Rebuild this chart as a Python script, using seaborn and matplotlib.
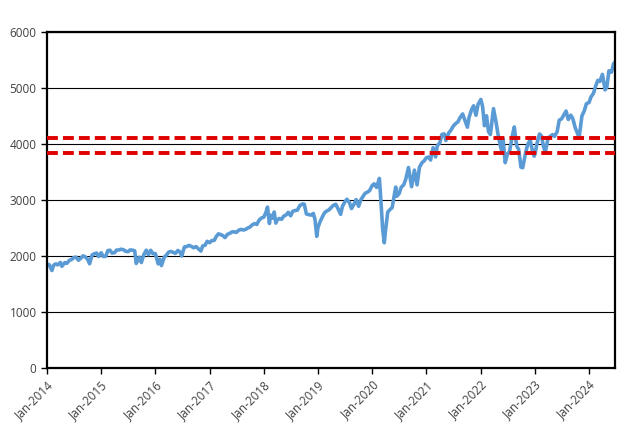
import pandas as pd
import matplotlib.pyplot as plt
import matplotlib.dates as mdates
import seaborn as sns

# S&P 500 style index (roughly twice a month)
dates = [
    '2014-01-02', '2014-01-15', '2014-02-03', '2014-02-15', '2014-03-01', '2014-03-14', '2014-04-01', '2014-04-11',
    '2014-05-01', '2014-05-15', '2014-06-01', '2014-06-15', '2014-07-01', '2014-07-15', '2014-08-01', '2014-08-15',
    '2014-09-01', '2014-09-15', '2014-10-01', '2014-10-15', '2014-11-01', '2014-11-15', '2014-12-01', '2014-12-15',
    '2015-01-01', '2015-01-15', '2015-02-01', '2015-02-15', '2015-03-01', '2015-03-15', '2015-04-01', '2015-04-15',
    '2015-05-01', '2015-05-15', '2015-06-01', '2015-06-15', '2015-07-01', '2015-07-15', '2015-08-01', '2015-08-15',
    '2015-08-25', '2015-09-05', '2015-09-15', '2015-09-29', '2015-10-15', '2015-11-01', '2015-11-15', '2015-12-01',
    '2015-12-15',
    '2016-01-01', '2016-01-20', '2016-02-01', '2016-02-11', '2016-03-01', '2016-03-15', '2016-04-01', '2016-04-15',
    '2016-05-01', '2016-05-15', '2016-06-01', '2016-06-15', '2016-06-27', '2016-07-15', '2016-08-01', '2016-08-15',
    '2016-09-01', '2016-09-15', '2016-10-01', '2016-10-15', '2016-11-03', '2016-11-15', '2016-12-01', '2016-12-15',
    '2017-01-01', '2017-01-15', '2017-02-01', '2017-02-15', '2017-03-01', '2017-03-15', '2017-04-01', '2017-04-15',
    '2017-05-01', '2017-05-15', '2017-06-01', '2017-06-15', '2017-07-01', '2017-07-15', '2017-08-01', '2017-08-15',
    '2017-09-01', '2017-09-15', '2017-10-01', '2017-10-15', '2017-11-01', '2017-11-15', '2017-12-01', '2017-12-15',
    '2018-01-01', '2018-01-15', '2018-01-26', '2018-02-08', '2018-02-15', '2018-03-01', '2018-03-12', '2018-03-23',
    '2018-04-01', '2018-04-15', '2018-05-01', '2018-05-15', '2018-06-01', '2018-06-15', '2018-07-01', '2018-07-15',
    '2018-08-01', '2018-08-15', '2018-09-01', '2018-09-20', '2018-10-01', '2018-10-15', '2018-11-01', '2018-11-15',
    '2018-12-01', '2018-12-12', '2018-12-24',
    '2019-01-01', '2019-01-15', '2019-02-01', '2019-02-15', '2019-03-01', '2019-03-15', '2019-04-01', '2019-04-15',
    '2019-05-01', '2019-05-15', '2019-06-03', '2019-06-15', '2019-07-01', '2019-07-15', '2019-08-01', '2019-08-15',
    '2019-09-01', '2019-09-15', '2019-10-02', '2019-10-15', '2019-11-01', '2019-11-15', '2019-12-01', '2019-12-15',
    '2020-01-01', '2020-01-15', '2020-01-31', '2020-02-19', '2020-03-01', '2020-03-12', '2020-03-23', '2020-04-01',
    '2020-04-15', '2020-05-01', '2020-05-15', '2020-06-08', '2020-06-15', '2020-07-01', '2020-07-15', '2020-08-01',
    '2020-08-15', '2020-09-02', '2020-09-23', '2020-10-12', '2020-10-30', '2020-11-15', '2020-12-01', '2020-12-15',
    '2021-01-01', '2021-01-15', '2021-01-29', '2021-02-15', '2021-03-04', '2021-03-15', '2021-04-01', '2021-04-15',
    '2021-05-01', '2021-05-12', '2021-06-01', '2021-06-15', '2021-07-01', '2021-07-15', '2021-08-01', '2021-08-15',
    '2021-09-02', '2021-10-04', '2021-10-15', '2021-11-01', '2021-11-15', '2021-12-01', '2021-12-15',
    '2022-01-03', '2022-01-15', '2022-01-27', '2022-02-10', '2022-02-23', '2022-03-08', '2022-03-29', '2022-04-15',
    '2022-05-01', '2022-05-20', '2022-06-01', '2022-06-16', '2022-07-01', '2022-07-15', '2022-08-01', '2022-08-16',
    '2022-09-01', '2022-09-15', '2022-09-30', '2022-10-12', '2022-11-01', '2022-11-15', '2022-12-01', '2022-12-15',
    '2022-12-28',
    '2023-01-03', '2023-01-15', '2023-02-02', '2023-02-15', '2023-03-01', '2023-03-13', '2023-04-01', '2023-04-15',
    '2023-05-01', '2023-05-15', '2023-06-01', '2023-06-15', '2023-07-01', '2023-07-31', '2023-08-15', '2023-09-01',
    '2023-09-15', '2023-10-01', '2023-10-27', '2023-11-15', '2023-12-01', '2023-12-15',
    '2024-01-02', '2024-01-15', '2024-02-01', '2024-02-15', '2024-03-01', '2024-03-15', '2024-04-01', '2024-04-19',
    '2024-05-01', '2024-05-15', '2024-06-01', '2024-06-15', '2024-06-24',
]
values = [
    1848, 1848, 1741, 1838, 1859, 1841, 1885, 1815,
    1883, 1870, 1924, 1937, 1973, 1981, 1925, 1955,
    2003, 1985, 1946, 1862, 2018, 2039, 2053, 1990,
    2058, 1992, 1995, 2096, 2104, 2053, 2059, 2106,
    2108, 2122, 2111, 2084, 2077, 2108, 2104, 2092,
    1867, 1921, 1978, 1884, 2023, 2104, 2023, 2102,
    2043,
    2044, 1860, 1940, 1829, 1978, 2015, 2072, 2081,
    2065, 2047, 2099, 2072, 2000, 2161, 2170, 2190,
    2170, 2147, 2168, 2133, 2088, 2180, 2191, 2262,
    2238, 2275, 2279, 2350, 2395, 2385, 2362, 2329,
    2388, 2402, 2430, 2432, 2423, 2459, 2476, 2464,
    2476, 2500, 2519, 2557, 2579, 2564, 2642, 2676,
    2695, 2776, 2873, 2581, 2731, 2677, 2786, 2588,
    2641, 2670, 2655, 2711, 2735, 2780, 2718, 2798,
    2813, 2818, 2901, 2930, 2924, 2750, 2740, 2730,
    2760, 2651, 2351,
    2510, 2610, 2706, 2775, 2803, 2822, 2867, 2905,
    2924, 2850, 2744, 2886, 2964, 3014, 2953, 2847,
    2926, 3007, 2888, 2995, 3066, 3120, 3141, 3168,
    3258, 3289, 3225, 3386, 2954, 2481, 2237, 2470,
    2783, 2831, 2864, 3232, 3067, 3115, 3227, 3271,
    3373, 3580, 3237, 3534, 3270, 3585, 3662, 3695,
    3756, 3768, 3714, 3934, 3768, 3968, 4020, 4170,
    4181, 4063, 4202, 4246, 4320, 4360, 4395, 4468,
    4537, 4300, 4471, 4613, 4682, 4513, 4709,
    4796, 4662, 4326, 4504, 4225, 4170, 4631, 4392,
    4132, 3901, 4101, 3667, 3825, 3863, 4119, 4305,
    3966, 3901, 3586, 3577, 3856, 3992, 4076, 3895,
    3783,
    3824, 3999, 4179, 4147, 3951, 3855, 4109, 4137,
    4167, 4136, 4221, 4425, 4450, 4589, 4438, 4515,
    4450, 4288, 4117, 4502, 4594, 4719,
    4742, 4840, 4906, 5030, 5137, 5117, 5243, 4967,
    5018, 5308, 5283, 5431, 5460,
]

# the two horizontal reference levels
ref_levels = [4100, 3840]

df = pd.DataFrame({'Date': pd.to_datetime(dates), 'Index': values})

sns.set_style('white')
plt.rcParams['font.family'] = ['Open Sans', 'DejaVu Sans']

fig = plt.figure(figsize=(6.37, 4.42), dpi=100)
ax = fig.add_axes([0.0738, 0.1674, 0.8917, 0.7602])

sns.lineplot(data=df, x='Date', y='Index', ax=ax, color='#5B9BD5', linewidth=2.6)

for lvl in ref_levels:
    ax.axhline(lvl, color='#E00000', linewidth=2.8, linestyle=(0, (2.8, 1.3)), zorder=3)

ax.set_ylim(0, 6000)
ax.set_yticks(range(0, 6001, 1000))
ax.set_xlim(pd.Timestamp('2014-01-01'), pd.Timestamp('2024-06-25'))
ax.set_xticks(pd.date_range('2014-01-01', '2024-01-01', freq='YS'))
ax.xaxis.set_major_formatter(mdates.DateFormatter('%b-%Y'))
plt.setp(ax.get_xticklabels(), rotation=45, ha='right', rotation_mode='anchor')

ax.grid(axis='y', color='black', linewidth=0.8)
ax.set_axisbelow(True)
for s in ax.spines.values():
    s.set_color('black')
    s.set_linewidth(1.6)
ax.tick_params(axis='both', labelsize=8.5, colors='#404040', length=4, width=1, direction='out',
               left=True, bottom=True)
ax.tick_params(axis='both', color='black')
ax.set_xlabel('')
ax.set_ylabel('')

plt.savefig('out.png', dpi=100)
